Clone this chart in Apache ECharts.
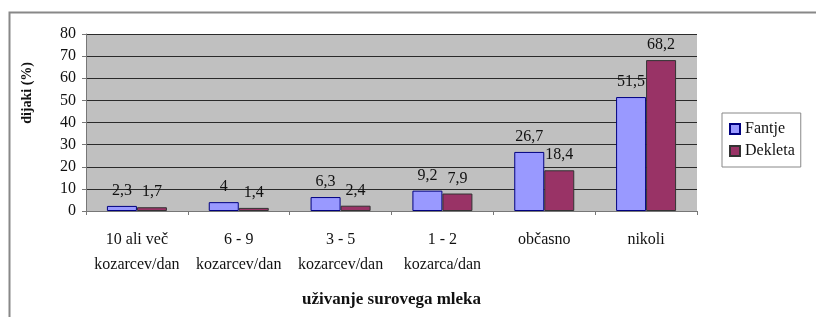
<!DOCTYPE html>
<html>
<head>
<meta charset="utf-8">
<script src="https://cdn.jsdelivr.net/npm/echarts@6/dist/echarts.min.js"></script>
<style>
  html, body { margin: 0; padding: 0; background: #fff; }
  #chart { width: 816px; height: 317px; }
</style>
</head>
<body>
<div id="chart"></div>
<script>
// podatki
var categories = ['10 ali več\nkozarcev/dan', '6 - 9\nkozarcev/dan', '3 - 5\nkozarcev/dan', '1 - 2\nkozarca/dan', 'občasno', 'nikoli'];
var fantje = [2.3, 4, 6.3, 9.2, 26.7, 51.5];
var dekleta = [1.7, 1.4, 2.4, 7.9, 18.4, 68.2];
var yTicks = [0, 10, 20, 30, 40, 50, 60, 70, 80];

var font = '"Liberation Serif", "Times New Roman", serif';

function labelFmt(p) {
    return String(p.value).replace('.', ',');
}

var chart = echarts.init(document.getElementById('chart'));
var option = {
    animation: false,
    textStyle: { fontFamily: font },
    grid: { left: 86, top: 34, width: 611, height: 177, containLabel: false,
            show: true, backgroundColor: '#c0c0c0', borderWidth: 0 },
    legend: {
        orient: 'vertical',
        left: 722, top: 113,
        icon: 'rect',
        itemWidth: 10, itemHeight: 10, itemGap: 6,
        padding: [8, 6, 8, 7],
        borderColor: '#888', borderWidth: 1,
        textStyle: { fontFamily: font, fontSize: 16, color: '#111' },
        data: ['Fantje', 'Dekleta']
    },
    xAxis: {
        type: 'category',
        data: categories,
        name: 'uživanje surovega mleka',
        nameLocation: 'middle',
        nameGap: 80,
        nameTextStyle: { fontFamily: font, fontSize: 17, fontWeight: 'bold', color: '#111' },
        axisLine: { lineStyle: { color: '#777', width: 1 } },
        axisTick: { show: true, length: 4, lineStyle: { color: '#777' } },
        axisLabel: { interval: 0, fontFamily: font, fontSize: 16, color: '#111', lineHeight: 25, margin: 16 }
    },
    yAxis: {
        type: 'value',
        min: 0, max: 80, interval: 10,
        axisLine: { show: true, lineStyle: { color: '#777' } },
        axisTick: { show: true, length: 4, lineStyle: { color: '#777' } },
        axisLabel: {
            fontFamily: font, fontSize: 16, color: '#111', margin: 10,
            formatter: function (v) { return yTicks.indexOf(v) >= 0 ? String(v) : ''; }
        },
        splitLine: { lineStyle: { color: '#2a2a2a', width: 1.2 } }
    },
    graphic: [
        { type: 'rect', left: 7, top: 10, shape: { width: 830, height: 330 },
          style: { fill: 'none', stroke: '#888', lineWidth: 2 }, z: -1 },
        { type: 'text', left: 20, top: 62, rotation: Math.PI / 2,
          style: { text: 'dijaki (%)', font: 'bold 14px ' + font, fill: '#111' } }
    ],
    series: [
        {
            name: 'Fantje', type: 'bar', data: fantje,
            barWidth: 30, barGap: '0%',
            itemStyle: { color: '#9999ff', borderColor: '#000080', borderWidth: 1 },
            label: { show: true, position: 'top', distance: 7, fontFamily: font, fontSize: 16, color: '#111', formatter: labelFmt }
        },
        {
            name: 'Dekleta', type: 'bar', data: dekleta,
            barWidth: 30,
            itemStyle: { color: '#993366', borderColor: '#333', borderWidth: 1 },
            label: { show: true, position: 'top', distance: 7, fontFamily: font, fontSize: 16, color: '#111', formatter: labelFmt }
        }
    ]
};
chart.setOption(option);
</script>
</body>
</html>
